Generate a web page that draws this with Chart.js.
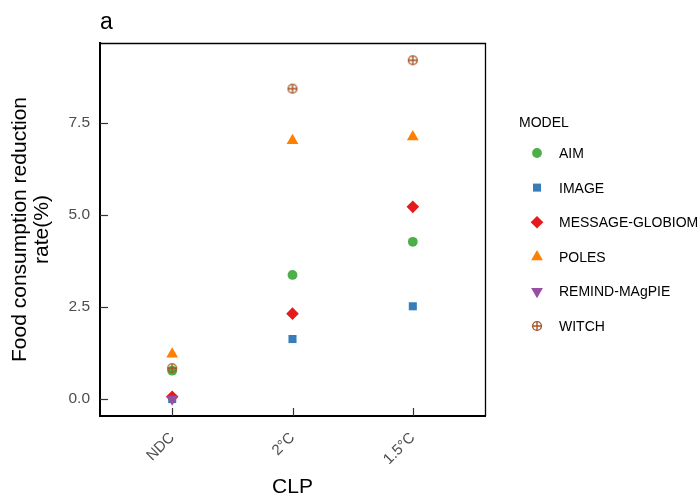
<!DOCTYPE html>
<html><head><meta charset="utf-8">
<script src="https://cdn.jsdelivr.net/npm/chart.js@4.4.1/dist/chart.umd.min.js"></script>
<style>html,body{margin:0;padding:0;background:#fff}</style>
</head><body>
<canvas id="c" width="700" height="498" style="width:700px;height:498px;display:block"></canvas>
<script>
const categories = ['NDC', '2°C', '1.5°C'];
const models = ['AIM', 'IMAGE', 'MESSAGE-GLOBIOM', 'POLES', 'REMIND-MAgPIE', 'WITCH'];
const aim = [0.77, 3.37, 4.27];
const image = [0.0, 1.63, 2.52];
const message = [0.06, 2.32, 5.22];
const poles = [1.22, 7.02, 7.12];
const remind = [0.0, null, null];
const witch = [0.84, 8.43, 9.20];
const yTicks = [0, 2.5, 5, 7.5];

const FONT = "'Liberation Sans', Arial, Helvetica, sans-serif";
Chart.defaults.font.family = FONT;

// crossed-circle marker (ggplot shape 10)
function crossCircle(color) {
  const c = document.createElement('canvas');
  c.width = 12; c.height = 12;
  const g = c.getContext('2d');
  g.strokeStyle = color; g.lineWidth = 1.4;
  g.beginPath(); g.arc(6, 6, 4.4, 0, Math.PI * 2); g.stroke();
  g.beginPath(); g.moveTo(1.6, 6); g.lineTo(10.4, 6); g.moveTo(6, 1.6); g.lineTo(6, 10.4); g.stroke();
  return c;
}

const seriesValues = [aim, image, message, poles, remind, witch];
const colors = ['#4DAF4A', '#377EB8', '#E41A1C', '#FF7F00', '#984EA3', '#A65628'];
const styles = ['circle', 'rect', 'rectRot', 'triangle', 'triangle', crossCircle('#A65628')];
const radii = [4.9, 5.7, 6.3, 6.8, 6.8, 6];
const rotations = [0, 0, 0, 0, 180, 0];

const datasets = models.map((m, k) => ({
  label: m,
  data: seriesValues[k].map((v, i) => ({x: i + 1, y: v})).filter(p => p.y !== null),
  pointStyle: styles[k],
  pointRadius: radii[k],
  pointRotation: rotations[k],
  pointBackgroundColor: colors[k],
  pointBorderColor: colors[k],
  pointBorderWidth: 0,
  showLine: false,
  order: models.length - k
}));

const decor = {
  id: 'decor',
  beforeDatasetsDraw(chart) {
    const {ctx, chartArea: a, scales: {x, y}} = chart;
    ctx.save();
    ctx.strokeStyle = '#333333';
    ctx.lineWidth = 1.2;
    y.ticks.forEach(t => {
      const py = Math.round(y.getPixelForValue(t.value)) + 0.5;
      ctx.beginPath(); ctx.moveTo(a.left, py); ctx.lineTo(a.left + 8, py); ctx.stroke();
    });
    x.ticks.forEach(t => {
      const px = Math.round(x.getPixelForValue(t.value)) + 0.5;
      ctx.beginPath(); ctx.moveTo(px, a.bottom); ctx.lineTo(px, a.bottom - 8); ctx.stroke();
    });
    ctx.strokeStyle = '#000';
    ctx.lineWidth = 1.3;
    ctx.beginPath();
    ctx.moveTo(a.left, a.top + 0.5); ctx.lineTo(a.right + 0.5, a.top + 0.5); ctx.lineTo(a.right + 0.5, a.bottom);
    ctx.stroke();
    ctx.restore();
  },
  afterDraw(chart) {
    const {ctx, chartArea: a} = chart;
    ctx.save();
    ctx.fillStyle = '#000';
    ctx.textBaseline = 'alphabetic';
    ctx.textAlign = 'left';
    ctx.font = '23px ' + FONT;
    ctx.fillText('a', a.left, 29);
    ctx.font = '14px ' + FONT;
    ctx.fillText('MODEL', 519, 127);
    models.forEach((m, k) => {
      const cy = 153 + k * 34.6;
      ctx.fillStyle = colors[k];
      ctx.strokeStyle = colors[k];
      Chart.helpers.drawPoint(ctx, {pointStyle: styles[k], radius: radii[k], rotation: rotations[k], borderWidth: 0}, 537, cy);
      ctx.fillStyle = '#000';
      ctx.fillText(m, 559, cy + 5);
    });
    ctx.restore();
  }
};

new Chart(document.getElementById('c'), {
  type: 'scatter',
  data: {datasets},
  options: {
    responsive: false,
    animation: false,
    devicePixelRatio: 1,
    layout: {padding: {top: 43, right: 215, left: 0, bottom: 0}},
    plugins: {legend: {display: false}, tooltip: {enabled: false}},
    scales: {
      x: {
        type: 'linear', min: 0.4, max: 3.6,
        afterBuildTicks: s => { s.ticks = categories.map((c, i) => ({value: i + 1})); },
        afterFit: s => { s.height = 82; },
        ticks: {
          callback: v => categories[Math.round(v) - 1],
          minRotation: 45, maxRotation: 45, autoSkip: false,
          color: '#4D4D4D', font: {size: 15}, padding: 13
        },
        grid: {display: false, drawTicks: false},
        border: {display: true, color: '#000', width: 2},
        title: {display: true, text: 'CLP', color: '#000', font: {size: 21, lineHeight: 1.05}, padding: {top: 0, bottom: 0}}
      },
      y: {
        type: 'linear', min: -0.46, max: 9.67,
        afterBuildTicks: s => { s.ticks = yTicks.map(v => ({value: v})); },
        afterFit: s => { s.width = 100; },
        ticks: {callback: v => v.toFixed(1), color: '#4D4D4D', font: {size: 15.5}, padding: 10},
        grid: {display: false, drawTicks: false},
        border: {display: true, color: '#000', width: 2},
        title: {display: true, text: ['Food consumption reduction', 'rate(%)'], color: '#000', font: {size: 21, lineHeight: 1.05}, padding: {top: 9, bottom: 0}}
      }
    }
  },
  plugins: [decor]
});
</script>
</body></html>
